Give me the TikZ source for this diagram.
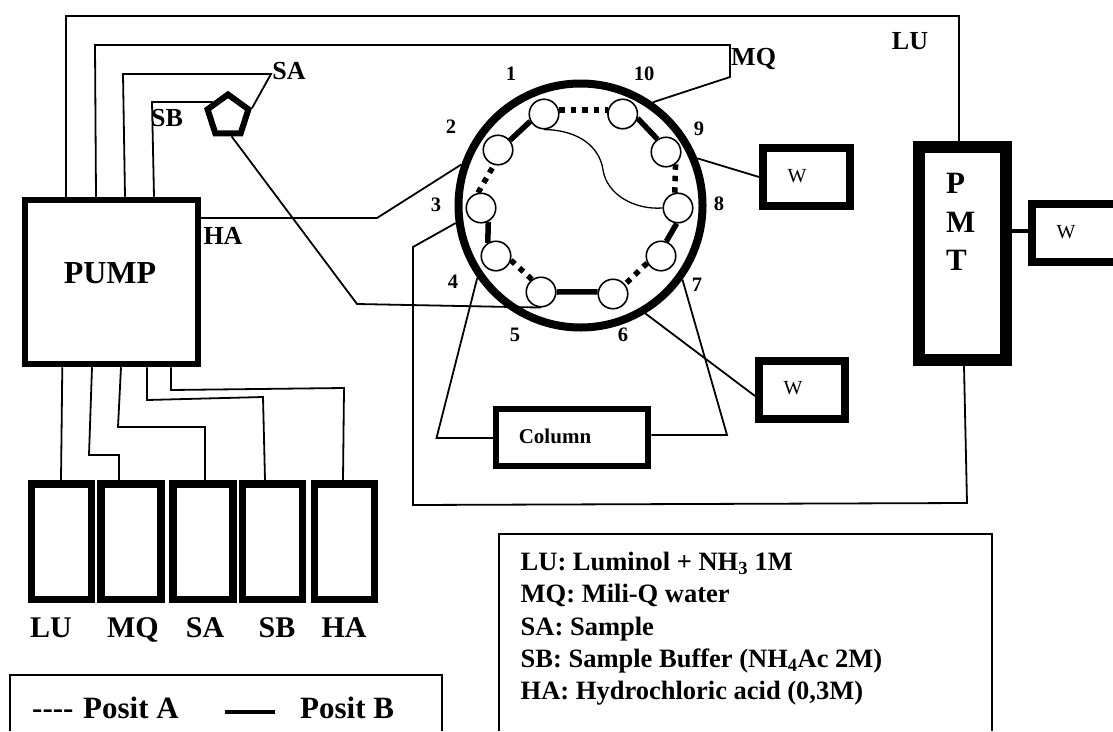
\documentclass[tikz,border=0pt]{standalone}
\usepackage{fontspec}
\setmainfont{Liberation Serif}
\usetikzlibrary{shapes.geometric}
\tikzset{
  ringline/.style={draw=black, line width=8pt},
  thinpipe/.style={draw=black, line width=1.8pt, line join=miter},
  portnode/.style={circle, draw=black, line width=1.6pt, fill=white,
    minimum width=29.5pt, inner sep=0pt},
  solidlink/.style={draw=black, line width=5.5pt},
  dottedlink/.style={draw=black, line width=5.5pt, dash pattern=on 5.5pt off 6pt},
  pumpbox/.style={draw=black, line width=6pt, inner sep=0pt},
  bottlebox/.style={draw=black, line width=7.5pt, minimum width=60pt,
    minimum height=115.5pt, inner sep=0pt},
  wastebox/.style={draw=black, line width=8pt, inner sep=0pt},
  pmtbox/.style={draw=black, line width=12pt, inner sep=0pt},
  columnbox/.style={draw=black, line width=6.5pt, inner sep=0pt},
  pentanode/.style={regular polygon, regular polygon sides=5, draw=black,
    line width=6pt, minimum size=43pt, inner sep=0pt},
  legendline/.style={draw=black, line width=1.8pt},
  portlabel/.style={font=\fontsize{20.5}{22}\selectfont\bfseries, inner sep=0pt},
  fluidlabel/.style={font=\fontsize{26}{28}\selectfont\bfseries, inner sep=0pt},
  biglabel/.style={font=\fontsize{30}{32}\selectfont\bfseries, inner sep=0pt},
  positlabel/.style={font=\fontsize{31}{33}\selectfont\bfseries, inner sep=0pt, anchor=base west},
  wastelabel/.style={font=\fontsize{20}{22}\selectfont, inner sep=0pt}
}
\begin{document}
\begin{tikzpicture}[x=1pt, y=-1pt]
\useasboundingbox (0,0) rectangle (1113,731);

% valve ring and ports
\node[circle, ringline, minimum width=244pt, inner sep=0pt] (ring) at (580.5,205.5) {};
\foreach \name/\px/\py in {p1/544/114, p10/622.7/114, p9/666/152, p8/678/208, p7/661/256,
                           p6/613/294, p5/541/292, p4/496/256, p3/481/208, p2/498/150} {
  \node[portnode] (\name) at (\px,\py) {};
}
\draw[dottedlink] (p1.15) -- (p10.165);
\draw[solidlink] (p10.-16) -- (p9.124);
\draw[dottedlink] (p9.-52) -- (p8.102);
\draw[solidlink] (p8.-95) -- (p7.70);
\draw[dottedlink] (p7.-153) -- (p6.39);
\draw[solidlink] (p6.172) -- (p5.0);
\draw[dottedlink] (p5.126) -- (p4.-16);
\draw[solidlink] (p4.122) -- (p3.-62);
\draw[dottedlink] (p3.101) -- (p2.-105);
\draw[solidlink] (p2.39) -- (p1.-152);
\draw[thinpipe, line width=1.3pt] (p1.south) .. controls (580,130) and (600,148) .. (603,170)
  .. controls (607,195) and (635,210) .. (p8.west);

\foreach \name/\tx/\ty/\num in {n1/511/74/1, n10/644/74/10, n9/699/129/9, n8/719/204/8, n7/697/285/7,
                                n6/623/335/6, n5/515/335/5, n4/453/282/4, n3/436/205/3, n2/451/127/2} {
  \node[portlabel] (\name) at (\tx,\ty) {\num};
}

% boxes
\node[pumpbox, minimum width=173pt, minimum height=164.5pt] (pump) at (111.5,282) {};
\node[biglabel, font=\fontsize{32}{34}\selectfont\bfseries] (pumptext) at (110,273) {PUMP};
\node[pentanode] (penta) at (228,116) {};
\node[columnbox, minimum width=152pt, minimum height=57pt] (column) at (572,437.5) {};
\node[font=\fontsize{21}{23}\selectfont\bfseries, inner sep=0pt] (columntext) at (555,436) {Column};
\node[wastebox, minimum width=87pt, minimum height=58pt] (wone) at (806.5,177) {};
\node[wastelabel] (wonetext) at (797,176) {W};
\node[wastebox, minimum width=86pt, minimum height=58pt] (wtwo) at (802,390) {};
\node[wastelabel] (wtwotext) at (793,388) {W};
\node[wastebox, minimum width=86pt, minimum height=58pt] (wthree) at (1075,233) {};
\node[wastelabel] (wthreetext) at (1066,232) {W};
\node[pmtbox, minimum width=87pt, minimum height=213pt] (pmt) at (962.5,253.5) {};
\node[font=\fontsize{31}{38.5}\selectfont\bfseries, inner sep=0pt, align=left, anchor=north west]
  (pmttext) at (946,173) {P\\M\\T};

% bottles
\foreach \name/\bx/\tx/\lab in {blu/61.7/51/LU, bmq/131/133/MQ, bsa/203/205/SA, bsb/272.5/277/SB, bha/344.5/344/HA} {
  \node[bottlebox] (\name) at (\bx,541.5) {};
  \node[biglabel, anchor=base] (\name text) at (\tx,637) {\lab};
}

% pipes from pump to valve and pmt
\draw[thinpipe] (pump.north -| 66,0) -- (66,16) -- (959,16) -- (pmt.north -| 959,0);
\draw[thinpipe] (pump.north -| 96,0) -- (95,45) -- (730,45) -- (730,77) -- (ring.55.6);
\draw[thinpipe] (pump.north -| 125,0) -- (123,74) -- (271,74) -- (penta.corner 5);
\draw[thinpipe] (pump.north -| 154,0) -- (152,102) -- (penta.138);
\draw[thinpipe] (pump.east |- 0,218) -- (377,218) -- (ring.161.5);
\draw[thinpipe] (penta.-80) -- (357,304) -- (p5.south);
\draw[thinpipe] (ring.-172) -- (413,247) -- (413,505) -- (967,503) -- (pmt.south -| 964,0);
\draw[thinpipe] (ring.-145) -- (436.5,438) -- (column.west |- 0,438);
\draw[thinpipe] (ring.-36) -- (727,435) -- (column.east |- 0,435);
\draw[thinpipe] (ring.-59.6) -- (wtwo.west |- 0,396);
\draw[thinpipe] (ring.22) -- (wone.west |- 0,177);
\draw[solidlink, line width=4pt] (pmt.east |- 0,231) -- (wthree.west |- 0,231);

% pipes from bottles to pump
\draw[thinpipe] (pump.south -| 62.3,0) -- (blu.north -| 61,0);
\draw[thinpipe] (pump.south -| 92,0) -- (89,455) -- (119,455) -- (bmq.north -| 119,0);
\draw[thinpipe] (pump.south -| 121,0) -- (118,427) -- (205,427) -- (bsa.north -| 205,0);
\draw[thinpipe] (pump.south -| 147,0) -- (147,400) -- (263,397) -- (bsb.north -| 265,0);
\draw[thinpipe] (pump.south -| 171,0) -- (171,390) -- (344,388) -- (bha.north -| 343,0);

% fluid labels
\node[fluidlabel] (salabel) at (289,71) {SA};
\node[fluidlabel] (sblabel) at (167,118) {SB};
\node[fluidlabel] (halabel) at (223,236) {HA};
\node[fluidlabel, anchor=base west] (mqlabel) at (731,65) {MQ};
\node[fluidlabel] (lulabel) at (910,41) {LU};

% legends
\draw[legendline] (10,731) -- (10,675) -- (442,675) -- (442,731);
\node[positlabel] (posita) at (32,718) {-{}-{}-{}- \hspace{2pt}Posit A};
\draw[solidlink, line width=4pt] (225,712) -- (275,712);
\node[positlabel] (positb) at (300,718) {Posit B};
\draw[legendline] (499,731) -- (499,534) -- (992,534) -- (992,731);
\node[font=\fontsize{26.5}{32.25}\selectfont\bfseries, inner sep=0pt, align=left, anchor=north west] (legendtext) at (520.5,552)
  {LU: Luminol + NH\textsubscript{3} 1M\\MQ: Mili-Q water\\SA: Sample\\SB: Sample Buffer (NH\textsubscript{4}Ac 2M)\\HA: Hydrochloric acid (0,3M)};
\end{tikzpicture}
\end{document}
